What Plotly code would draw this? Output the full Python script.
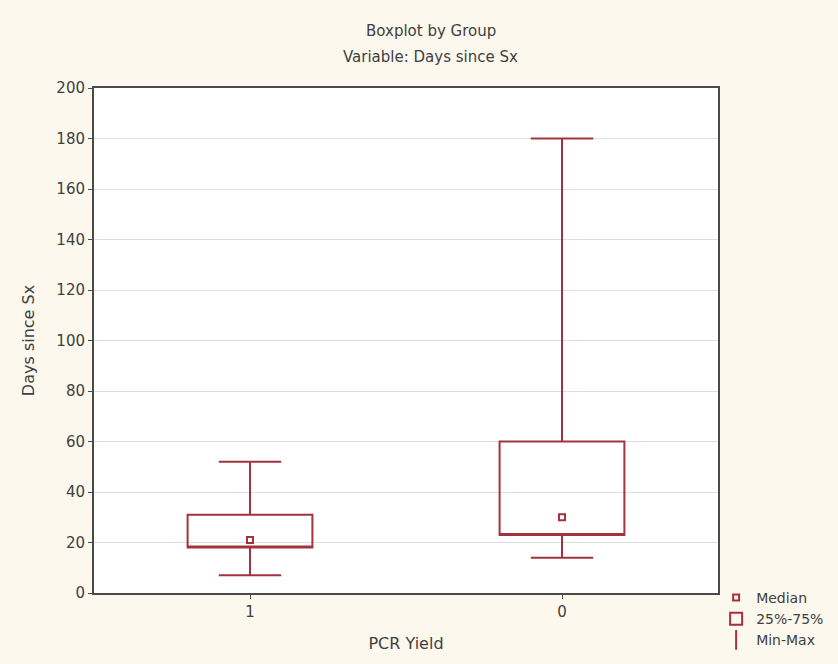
import plotly.graph_objects as go

categories = ["1", "0"]
mins = [7, 14]
q1s = [18, 23]
medians = [21, 30]
q3s = [31, 60]
maxs = [52, 180]
y_ticks = list(range(0, 201, 20))

RED = "#a3323c"
FRAME = "#4a4a4a"
TXT = "#404040"
FONT = "DejaVu Sans, Verdana, sans-serif"

fig = go.Figure()

fig.add_trace(go.Box(
    name="25%-75%",
    x=categories,
    q1=q1s, median=q1s, q3=q3s,
    lowerfence=mins, upperfence=maxs,
    width=0.4, whiskerwidth=0.5,
    fillcolor="rgba(255,255,255,0)",
    line=dict(color=RED, width=2),
    boxpoints=False,
    showlegend=True,
    legendrank=2,
))

fig.add_trace(go.Scatter(
    name="Median",
    x=categories, y=medians,
    mode="markers",
    marker=dict(symbol="square-open", size=6, color=RED, line=dict(width=2, color=RED)),
    legendrank=1,
))

fig.add_trace(go.Scatter(
    name="Min-Max",
    x=[None], y=[None],
    mode="markers",
    marker=dict(symbol="line-ns-open", size=14, color=RED, line=dict(width=2, color=RED)),
    legendrank=3,
))

fig.update_layout(
    width=838, height=664,
    margin=dict(l=94, r=120, t=88, b=71, autoexpand=False),
    paper_bgcolor="#fdf8ee",
    plot_bgcolor="white",
    font=dict(family=FONT, size=15, color=TXT),
    showlegend=True,
    legend=dict(
        x=0.997, y=0.022, xanchor="left", yanchor="top",
        bgcolor="rgba(0,0,0,0)",
        font=dict(size=14, color=TXT),
        tracegroupgap=0,
        itemwidth=30,
    ),
    annotations=[
        dict(text="Boxplot by Group", x=0.54, y=1.0, xref="paper", yref="paper",
             yanchor="middle", yshift=57, showarrow=False, font=dict(size=15, color=TXT)),
        dict(text="Variable: Days since Sx", x=0.54, y=1.0, xref="paper", yref="paper",
             yanchor="middle", yshift=31, showarrow=False, font=dict(size=15, color=TXT)),
    ],
)

fig.update_xaxes(
    type="category",
    categoryorder="array", categoryarray=categories,
    range=[-0.5, 1.5],
    automargin=False,
    showline=True, linecolor=FRAME, linewidth=2, mirror=True,
    ticks="outside", ticklen=4, tickcolor=FRAME,
    showgrid=False, zeroline=False,
    title=dict(text="PCR Yield", standoff=18, font=dict(size=16, color=TXT)),
    tickfont=dict(size=15, color=TXT),
)

fig.update_yaxes(
    range=[0, 200],
    tickvals=y_ticks,
    automargin=False,
    showline=True, linecolor=FRAME, linewidth=2, mirror=True,
    ticks="outside", ticklen=4, tickcolor=FRAME,
    showgrid=True, gridcolor="#dedede", gridwidth=1,
    zeroline=False,
    title=dict(text="Days since Sx", standoff=18, font=dict(size=16, color=TXT)),
    tickfont=dict(size=15, color=TXT),
)

fig.write_html("out.html", config={"displayModeBar": False},
               post_script="document.body.style.margin='0';")
